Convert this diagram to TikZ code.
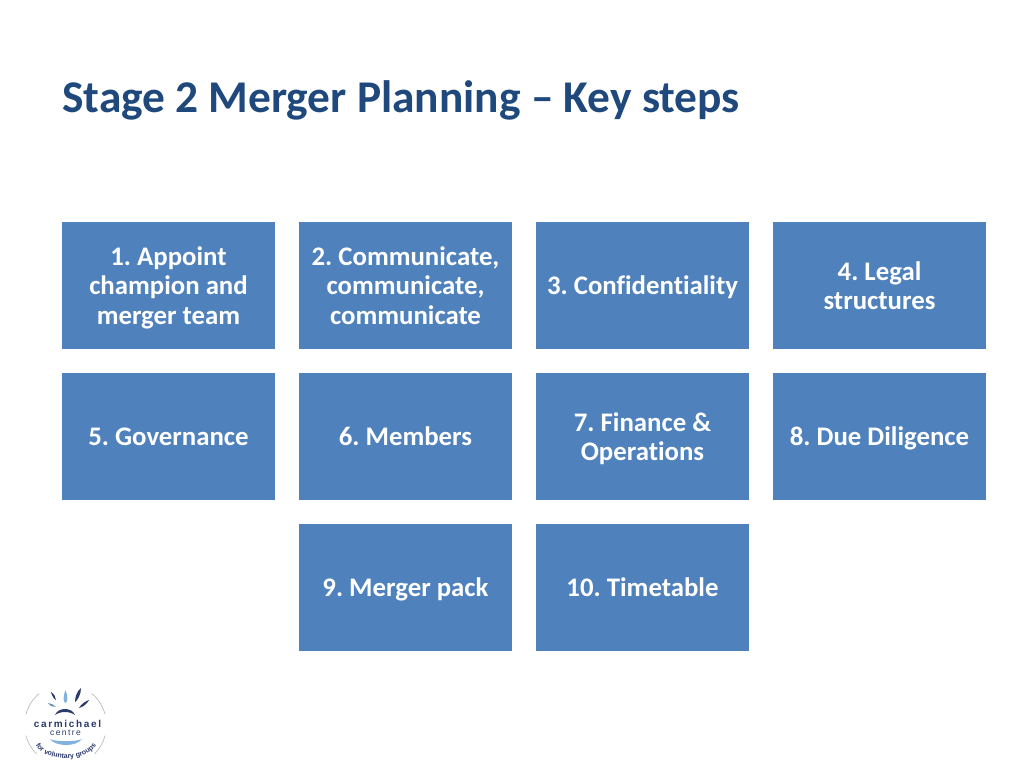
\documentclass[tikz,border=0pt]{standalone}
\usepackage{fontspec}
\setmainfont[Ligatures=NoCommon]{Carlito}
\newfontfamily\logofont{Liberation Sans}
\usetikzlibrary{decorations.text}
\definecolor{boxblue}{HTML}{4F81BD}
\definecolor{titleblue}{HTML}{1F497D}
\definecolor{logonavy}{HTML}{2B3A6B}
\definecolor{logolight}{HTML}{7FB2DC}
\definecolor{logoarc}{HTML}{B5B5B5}
\newcommand\lnstrut{\rule[-5.5pt]{0pt}{29.7pt}}
\tikzset{
  stepbox/.style={fill=boxblue,draw=none,minimum width=213pt,minimum height=127pt,inner sep=0pt,outer sep=0pt,
    text=white,align=center,font=\fontsize{26.8}{29.7}\selectfont\bfseries\frenchspacing,anchor=north west},
  titletext/.style={text=titleblue,font=\fontsize{45.4}{54}\selectfont\bfseries\frenchspacing,anchor=west,inner sep=0pt},
  ringarc/.style={draw=logoarc,line width=0.6pt},
  logotext/.style={text=logonavy,inner sep=0pt}
}
\begin{document}
\begin{tikzpicture}[x=1pt,y=-1pt]
\useasboundingbox (0,0) rectangle (1024,768);
\fill[white] (0,0) rectangle (1024,768);
\node[titletext] (title) at (62,100) {Stage 2 Merger Planning – Key steps};
\node[stepbox] (s1) at (62,222) {\lnstrut 1. Appoint\\\lnstrut champion and\\\lnstrut merger team};
\node[stepbox] (s2) at (299,222) {\lnstrut 2. Communicate,\\\lnstrut communicate,\\\lnstrut communicate};
\node[stepbox] (s3) at (536,222) {\lnstrut 3. Confidentiality};
\node[stepbox] (s4) at (773,222) {\lnstrut 4. Legal\\\lnstrut structures};
\node[stepbox] (s5) at (62,373) {\lnstrut 5. Governance};
\node[stepbox] (s6) at (299,373) {\lnstrut 6. Members};
\node[stepbox] (s7) at (536,373) {\lnstrut 7. Finance \&\\\lnstrut Operations};
\node[stepbox] (s8) at (773,373) {\lnstrut 8. Due Diligence};
\node[stepbox] (s9) at (299,524) {\lnstrut 9. Merger pack};
\node[stepbox] (s10) at (536,524) {\lnstrut 10. Timetable};
% logo ring (user angles: positive runs downward on the page)
\draw[ringarc] (65.5,725) ++(-50:41) arc[start angle=-50,end angle=-15,radius=41];
\draw[ringarc] (65.5,725) ++(15:41) arc[start angle=15,end angle=45,radius=41];
\draw[ringarc] (65.5,725) ++(135:41) arc[start angle=135,end angle=165,radius=41];
\draw[ringarc] (65.5,725) ++(195:41) arc[start angle=195,end angle=230,radius=41];
% rays
\fill[logolight] (65.5,690) .. controls (63,696) and (63,702) .. (65.5,703) .. controls (68,702) and (68,696) .. (65.5,690);
\fill[logonavy] (51,692) .. controls (52,696) and (54,699) .. (56,700) .. controls (56,697) and (54,694) .. (51,692);
\fill[logonavy] (81,688) .. controls (77,691) and (75,697) .. (75,702) .. controls (78,700) and (81,694) .. (81,688);
\fill[logolight!70!logonavy] (48,703) .. controls (51,703) and (54,705) .. (56,707) .. controls (53,707) and (50,706) .. (48,703);
\fill[logonavy] (89,700) .. controls (86,701) and (81,704) .. (79,708) .. controls (83,707) and (87,704) .. (89,700);
% arches
\fill[logonavy] (55,715) .. controls (58,707) and (72,707) .. (75,715) .. controls (70,711) and (60,711) .. (55,715);
\fill[logolight] (50,739) .. controls (56,747) and (76,747) .. (82,739) .. controls (76,742) and (56,742) .. (50,739);
\node[logotext] (carm) at (67.5,723.5) {\logofont\fontsize{10}{10}\selectfont\bfseries c\,a\,r\,m\,i\,c\,h\,a\,e\,l};
\node[logotext] (cent) at (65.5,733) {\logofont\fontsize{8.5}{8.5}\selectfont c\,e\,n\,t\,r\,e};
\path[decorate,decoration={text along path,text align=center,
  text={|\logofont\fontsize{7}{7}\selectfont\bfseries\color{logonavy}|for voluntary groups}}]
  (35,744) .. controls (44,763) and (86,763) .. (97,744);
\end{tikzpicture}
\end{document}
